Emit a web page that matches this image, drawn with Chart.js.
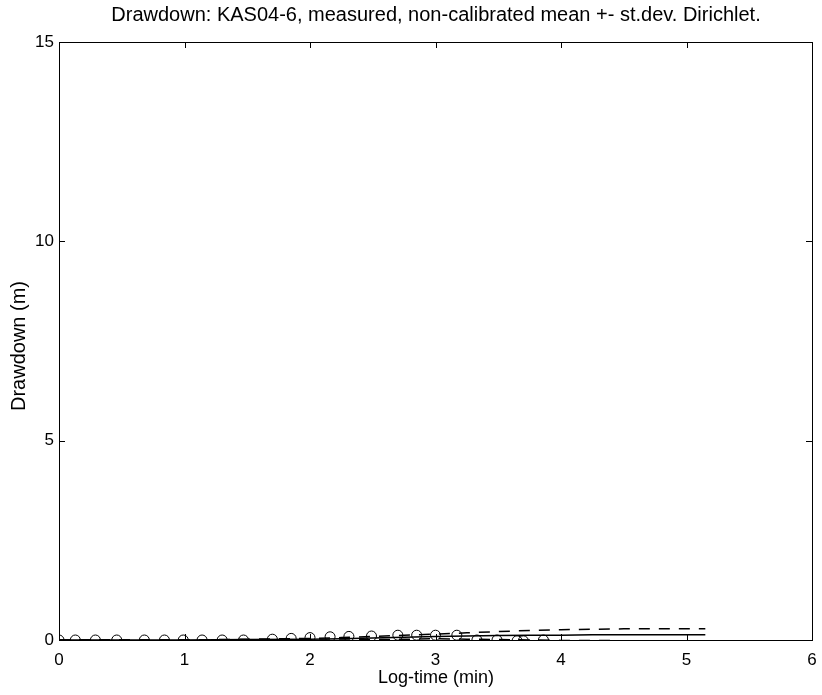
<!DOCTYPE html>
<html>
<head>
<meta charset="utf-8">
<script src="https://cdn.jsdelivr.net/npm/chart.js@4"></script>
<style>
  html, body { margin: 0; padding: 0; background: #fff; }
  #wrap { width: 822px; height: 695px; }
</style>
</head>
<body>
<div id="wrap"><canvas id="myChart" width="822" height="695"></canvas></div>
<script>
const titleText = 'Drawdown: KAS04-6, measured, non-calibrated mean +- st.dev. Dirichlet.';
const xLabel = 'Log-time (min)';
const yLabel = 'Drawdown (m)';
const xTicks = [0, 1, 2, 3, 4, 5, 6];
const yTicks = [0, 5, 10, 15];

// measured drawdown (circles)
const measuredX = [0, 0.13, 0.29, 0.46, 0.68, 0.84, 0.99, 1.14, 1.30, 1.47, 1.70, 1.85, 2.00, 2.16, 2.31, 2.49, 2.70, 2.85, 3.00, 3.17, 3.33, 3.49, 3.65, 3.70, 3.86];
const measuredY = [0, 0, 0, 0, 0, 0, 0, 0, 0, 0, 0.02, 0.04, 0.06, 0.08, 0.09, 0.10, 0.12, 0.12, 0.12, 0.12, 0.0, 0.0, -0.02, -0.02, 0.0];

// simulated mean and mean +- st.dev.
const modelX = [0, 0.5, 1, 1.5, 2, 2.25, 2.5, 2.75, 3, 3.25, 3.5, 3.75, 4, 4.25, 4.5, 4.75, 5, 5.15];
const meanY  = [0, 0, 0, 0.01, 0.02, 0.03, 0.05, 0.07, 0.09, 0.10, 0.11, 0.12, 0.12, 0.13, 0.13, 0.13, 0.13, 0.13];
const upperY = [0, 0, 0, 0.02, 0.04, 0.06, 0.09, 0.12, 0.15, 0.18, 0.21, 0.24, 0.26, 0.27, 0.28, 0.28, 0.28, 0.28];
const lowerY = [0, 0, 0, 0, 0, 0, 0.01, 0.02, 0.03, 0.02, 0.01, 0, -0.01, -0.01, -0.02, -0.02, -0.02, -0.02];

const pts = (xs, ys) => xs.map((x, i) => ({ x, y: ys[i] }));
const FONT = 'Liberation Sans, Arial, Helvetica, sans-serif';

const boxPlugin = {
  id: 'matlabBox',
  afterDraw(chart) {
    const { ctx, chartArea: a, scales } = chart;
    ctx.save();
    ctx.strokeStyle = '#000';
    ctx.lineWidth = 1;
    ctx.strokeRect(a.left + 0.5, a.top + 0.5, a.right - a.left, a.bottom - a.top);
    const len = 6;
    ctx.beginPath();
    xTicks.forEach(v => {
      const px = Math.round(scales.x.getPixelForValue(v)) + 0.5;
      ctx.moveTo(px, a.bottom); ctx.lineTo(px, a.bottom - len);
      ctx.moveTo(px, a.top); ctx.lineTo(px, a.top + len);
    });
    yTicks.forEach(v => {
      const py = Math.round(scales.y.getPixelForValue(v)) + 0.5;
      ctx.moveTo(a.left, py); ctx.lineTo(a.left + len, py);
      ctx.moveTo(a.right, py); ctx.lineTo(a.right - len, py);
    });
    ctx.stroke();

    // title and axis labels
    ctx.fillStyle = '#000';
    ctx.textAlign = 'center';
    ctx.textBaseline = 'middle';
    ctx.font = '20px ' + FONT;
    ctx.fillText(titleText, 436, 15);
    ctx.font = '18px ' + FONT;
    ctx.fillText(xLabel, 436, 678);
    ctx.font = '20px ' + FONT;
    ctx.translate(19, 346);
    ctx.rotate(-Math.PI / 2);
    ctx.fillText(yLabel, 0, 0);
    ctx.restore();
  }
};

const ctx = document.getElementById('myChart').getContext('2d');
const chart = new Chart(ctx, {
  type: 'scatter',
  data: {
    datasets: [
      {
        label: 'measured',
        data: pts(measuredX, measuredY),
        showLine: false,
        pointStyle: 'circle',
        pointRadius: 5,
        borderColor: '#000',
        borderWidth: 1,
        backgroundColor: 'transparent'
      },
      {
        label: 'mean',
        data: pts(modelX, meanY),
        showLine: true,
        pointRadius: 0,
        borderColor: '#000',
        borderWidth: 1.5
      },
      {
        label: 'mean + st.dev.',
        data: pts(modelX, upperY),
        showLine: true,
        pointRadius: 0,
        borderColor: '#000',
        borderWidth: 1.5,
        borderDash: [11, 9]
      },
      {
        label: 'mean - st.dev.',
        data: pts(modelX, lowerY),
        showLine: true,
        pointRadius: 0,
        borderColor: '#000',
        borderWidth: 1.5,
        borderDash: [11, 9]
      }
    ]
  },
  options: {
    responsive: false,
    animation: false,
    layout: { padding: { top: 42, right: 10, left: 0, bottom: 0 } },
    scales: {
      x: {
        type: 'linear',
        min: 0,
        max: 6,
        afterFit(s) { s.height = 55; s.paddingLeft = 0; s.paddingRight = 0; },
        afterBuildTicks(s) { s.ticks = xTicks.map(v => ({ value: v })); },
        grid: { display: false, drawTicks: false },
        border: { display: false },
        ticks: { color: '#000', padding: 10, font: { family: FONT, size: 17 } }
      },
      y: {
        type: 'linear',
        min: 0,
        max: 15,
        afterFit(s) { s.width = 59; s.paddingTop = 0; s.paddingBottom = 0; },
        afterBuildTicks(s) { s.ticks = yTicks.map(v => ({ value: v })); },
        grid: { display: false, drawTicks: false },
        border: { display: false },
        ticks: { color: '#000', padding: 5, font: { family: FONT, size: 17 } }
      }
    },
    plugins: {
      legend: { display: false },
      tooltip: { enabled: false }
    }
  },
  plugins: [boxPlugin]
});
</script>
</body>
</html>
